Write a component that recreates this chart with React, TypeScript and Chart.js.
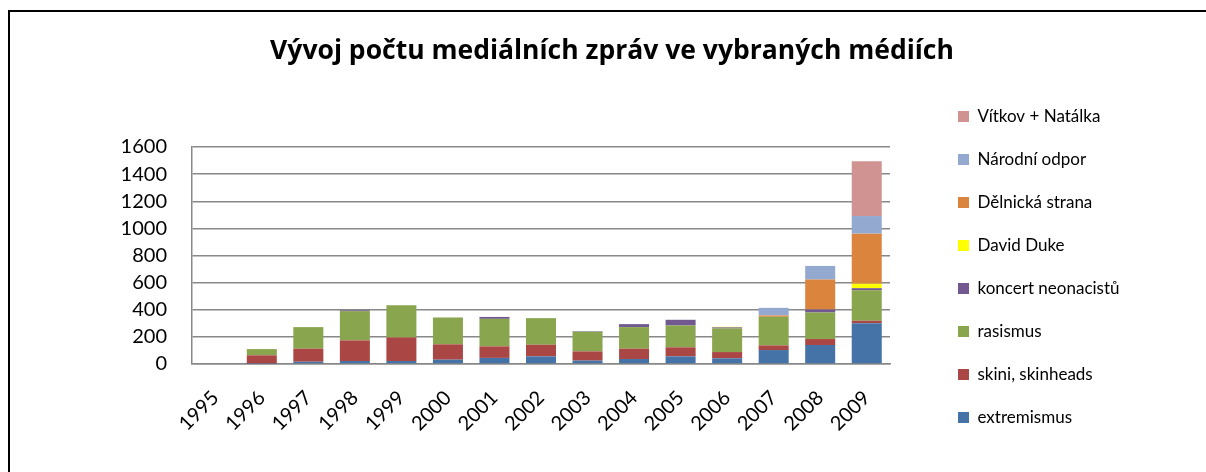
import React, { useEffect, useRef } from 'react';
import { Chart, registerables } from 'chart.js';

Chart.register(...registerables);

const TITLE = 'Vývoj počtu mediálních zpráv ve vybraných médiích';

const years = ['1995', '1996', '1997', '1998', '1999', '2000', '2001', '2002', '2003', '2004', '2005', '2006', '2007', '2008', '2009'];

const extremismus = [0, 2, 17, 22, 22, 32, 45, 56, 25, 37, 56, 42, 103, 140, 301];
const skini = [0, 62, 96, 152, 174, 113, 85, 86, 68, 76, 67, 46, 34, 44, 18];
const rasismus = [0, 46, 159, 216, 238, 198, 203, 196, 145, 159, 161, 174, 211, 196, 225];
const koncert = [0, 0, 0, 6, 0, 0, 14, 0, 4, 22, 42, 8, 0, 22, 15];
const davidDuke = [0, 0, 0, 0, 0, 0, 0, 0, 0, 0, 0, 4, 0, 0, 32];
const delnicka = [0, 0, 0, 0, 0, 0, 0, 0, 0, 0, 0, 0, 10, 221, 370];
const narodniOdpor = [0, 0, 0, 0, 0, 0, 0, 0, 0, 0, 0, 0, 56, 100, 130];
const vitkov = [0, 0, 0, 0, 0, 0, 0, 0, 0, 0, 0, 0, 0, 0, 404];

const yTicks = [0, 200, 400, 600, 800, 1000, 1200, 1400, 1600];

const seriesNames = ['extremismus', 'skini, skinheads', 'rasismus', 'koncert neonacistů', 'David Duke', 'Dělnická strana', 'Národní odpor', 'Vítkov + Natálka'];
const seriesValues = [extremismus, skini, rasismus, koncert, davidDuke, delnicka, narodniOdpor, vitkov];
const seriesColors = ['#4572A7', '#AA4643', '#89A54E', '#71588F', '#FFFF00', '#DB843D', '#93A9CF', '#D19392'];

const FONT = 'Lato';
const GRID = '#888888';

// layout geometry (page pixels)
const CANVAS_LEFT = 72;
const CANVAS_WIDTH = 1080;
const PLOT_LEFT = 192;
const LEGEND_LEFT = 932;

export default function App() {
  const ref = useRef<HTMLCanvasElement>(null);

  useEffect(() => {
    if (!ref.current) return;
    const geo = { pad: 25, yWidth: 95 };
    const chart = new Chart(ref.current, {
      type: 'bar',
      data: {
        labels: years,
        datasets: seriesNames.map((name, i) => ({
          label: name,
          data: seriesValues[i],
          backgroundColor: seriesColors[i],
          borderWidth: 0,
          categoryPercentage: 0.645,
          barPercentage: 1,
        })),
      },
      options: {
        responsive: false,
        animation: false,
        devicePixelRatio: 1,
        layout: { padding: { top: 0, left: geo.pad, right: geo.pad, bottom: 20 } },
        plugins: {
          title: {
            display: true,
            text: TITLE,
            color: '#000',
            font: { family: 'Open Sans', size: 26.5, weight: 'bold', lineHeight: 1.2 },
            padding: { top: 23.1, bottom: 15.1 },
          },
          legend: {
            position: 'right',
            align: 'end',
            reverse: true,
            maxWidth: 2000,
            labels: {
              boxWidth: 11,
              boxHeight: 11,
              padding: 26,
              color: '#000',
              font: { family: FONT, size: 17 },
            },
          },
          tooltip: { enabled: false },
        },
        scales: {
          x: {
            stacked: true,
            position: 'bottom',
            grid: { display: false, drawTicks: false },
            border: { display: true, color: GRID, width: 1.5 },
            ticks: {
              color: '#000',
              font: { family: FONT, size: 20 },
              minRotation: 45,
              maxRotation: 45,
              autoSkip: false,
              padding: 22,
            },
            afterFit: (s: any) => { s.height = 88; },
          },
          y: {
            stacked: true,
            min: 0,
            max: 1600,
            afterBuildTicks: (s: any) => { s.ticks = yTicks.map((v) => ({ value: v })); },
            grid: { color: GRID, lineWidth: 1.5, drawTicks: false },
            border: { display: true, color: GRID, width: 1.5 },
            ticks: {
              color: '#000',
              font: { family: FONT, size: 20 },
              padding: 25,
              callback: (v: any) => String(v),
            },
            afterFit: (s: any) => { s.width = geo.yWidth; },
          },
          xTop: {
            type: 'category',
            position: 'top',
            display: true,
            grid: { display: false, drawTicks: false },
            border: { display: false },
            ticks: { display: false },
            afterFit: (s: any) => { s.height = 65; },
          },
          yRight: {
            type: 'linear',
            position: 'right',
            display: true,
            grid: { display: false, drawTicks: false },
            border: { display: false },
            ticks: { display: false },
            afterFit: (s: any) => { s.width = 42; },
          },
        },
      } as any,
    });

    // symmetric padding so the legend starts at LEGEND_LEFT while the title stays centred
    const legendWidth = (chart as any).legend ? (chart as any).legend.width : 195;
    const pad = CANVAS_LEFT + CANVAS_WIDTH - legendWidth - LEGEND_LEFT;
    geo.pad = pad;
    geo.yWidth = PLOT_LEFT - CANVAS_LEFT - pad;
    (chart.options as any).layout.padding = { top: 0, left: pad, right: pad, bottom: 20 };
    chart.update();

    return () => chart.destroy();
  }, []);

  return (
    <div style={{ position: 'fixed', left: 0, top: 0, width: 1206, height: 472, overflow: 'hidden', background: '#fff' }}>
      <div
        style={{
          position: 'absolute',
          left: 8,
          top: 10,
          width: 1400,
          height: 600,
          border: '2px solid #000',
          boxSizing: 'border-box',
        }}
      />
      <canvas ref={ref} width={CANVAS_WIDTH} height={460} style={{ position: 'absolute', left: CANVAS_LEFT, top: 12 }} />
    </div>
  );
}
